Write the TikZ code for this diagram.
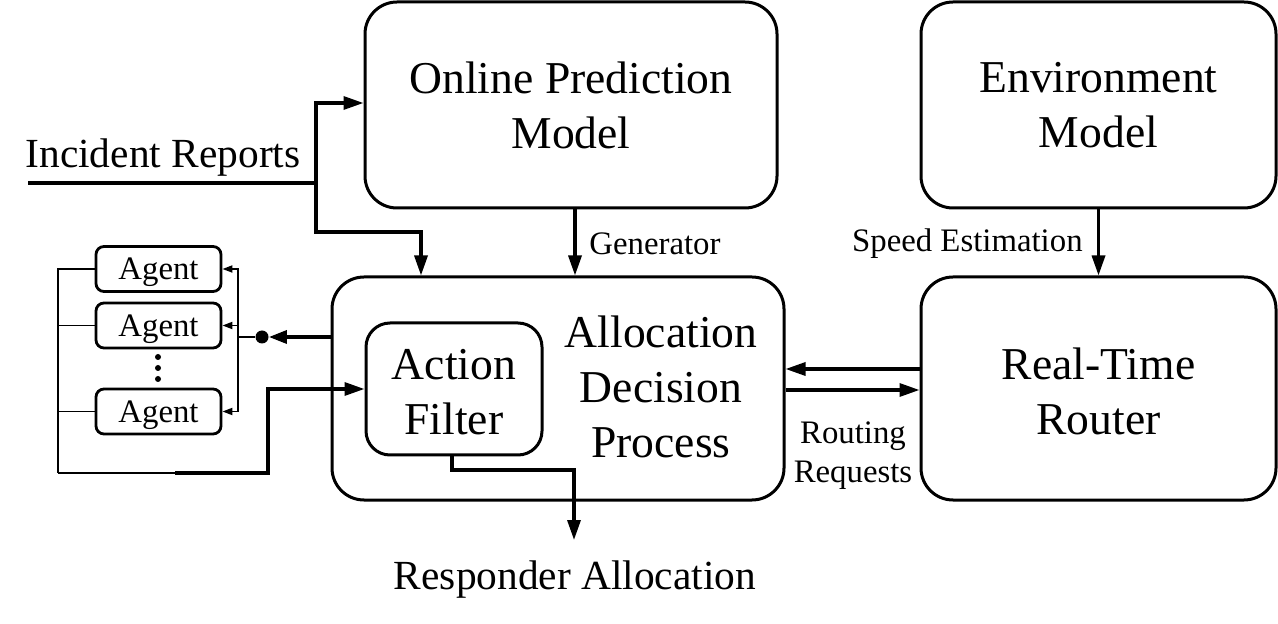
\documentclass[tikz,border=0pt]{standalone}
\usepackage{fontspec}
\setmainfont{Liberation Serif}
\usetikzlibrary{arrows.meta,calc}
\begin{document}
\begin{tikzpicture}[x=0.5pt,y=-0.5pt,
  bigbox/.style={draw,line width=1.5pt,rounded corners=16pt,inner sep=0pt},
  agentbox/.style={draw,line width=1.4pt,rounded corners=4pt,minimum width=62.5pt,minimum height=22.5pt,inner sep=0pt,text depth=0pt,font=\fontsize{16.4}{19.5}\selectfont},
  bigtext/.style={align=center,font=\fontsize{22.8}{27.5}\selectfont,inner sep=0pt},
  midtext/.style={align=center,font=\fontsize{20.7}{25}\selectfont,inner sep=0pt},
  smalltext/.style={align=center,font=\fontsize{16.4}{19.5}\selectfont,inner sep=0pt},
  conn/.style={line width=1.65pt},
  arr/.style={conn,-{Triangle[length=10pt,width=6.5pt]}},
  thinconn/.style={line width=0.9pt},
  thinarr/.style={thinconn,-{Triangle[length=5pt,width=3.5pt]}},
  dotnode/.style={circle,fill,inner sep=0pt,minimum size=6.5pt},
  smalldot/.style={circle,fill,inner sep=0pt,minimum size=3pt}
]
\useasboundingbox (0,0) rectangle (1278,624);
% main boxes
\node[bigbox,minimum width=206pt,minimum height=103pt] (opm) at (571,105) {};
\node[bigtext] (opmt) at (571,105) {Online Prediction\\Model};
\node[bigbox,minimum width=177.5pt,minimum height=103pt] (env) at (1098.5,105) {};
\node[bigtext] (envt) at (1098.5,105) {Environment\\Model};
\node[bigbox,minimum width=226pt,minimum height=111.5pt] (adp) at (558,388.5) {};
\node[bigtext] (adpt) at (661,387) {Allocation\\Decision\\Process};
\node[bigbox,minimum width=177.5pt,minimum height=111.5pt] (rtr) at (1098.5,388.5) {};
\node[bigtext] (rtrt) at (1098.5,391) {Real-Time\\Router};
\node[bigbox,rounded corners=12pt,minimum width=88pt,minimum height=66pt] (af) at (454,389) {};
\node[bigtext] (aft) at (454,392) {Action\\Filter};
% agents
\node[agentbox] (ag1) at (158.5,269) {Agent};
\node[agentbox] (ag2) at (158.5,325.5) {Agent};
\node[agentbox] (ag3) at (158.5,411.5) {Agent};
\node[smalldot] (d1) at (158,357) {};
\node[smalldot] (d2) at (158,368) {};
\node[smalldot] (d3) at (158,379) {};
% texts
\node[midtext] (irt) at (163,158) {Incident Reports};
\node[midtext] (rat) at (575,580) {Responder Allocation};
\node[smalltext,anchor=west] (gen) at (589,244) {Generator};
\node[smalltext,anchor=east] (spd) at (1083,244) {Speed Estimation};
\node[smalltext] (rr) at (853,456) {Routing\\Requests};
% incident reports
\coordinate (ir0) at (28,183);
\coordinate (irj) at (316,183);
\coordinate (c1) at (421,232);
\draw[conn] (ir0) -- (irj);
\draw[arr] (irj) |- ([yshift=1pt]opm.west);
\draw[arr] (irj) |- (c1) -- (c1 |- adp.north);
% generator / speed
\draw[arr] ([xshift=2pt]opm.south) -- ([xshift=2pt]opm.south |- adp.north);
\draw[arr] (env.south) -- (rtr.north);
% router
\draw[arr] ([yshift=9.75pt]rtr.west) -- ([yshift=9.75pt]rtr.west -| adp.east);
\draw[arr] ([yshift=-0.75pt]adp.east) -- ([yshift=-0.75pt]adp.east -| rtr.west);
% feedback to agents
\node[dotnode] (dot) at (262,337) {};
\coordinate (v) at (238,337);
\draw[conn,-{Triangle[length=9pt,width=6.5pt]}] ([yshift=25.75pt]adp.west) -- (dot);
\draw[thinconn] (dot) -- (v);
\draw[thinarr] (v) |- (ag1.east);
\draw[thinarr] (v) |- (ag2.east);
\draw[thinarr] (v) |- (ag3.east);
% agents back to action filter
\coordinate (lb) at (58,473);
\coordinate (m) at (175,473);
\coordinate (k) at (268,473);
\draw[thinconn] (ag1.west) -| (lb);
\draw[thinconn] (ag2.west) -- (ag2.west -| lb);
\draw[thinconn] (ag3.west) -- (ag3.west -| lb);
\draw[line width=1.1pt] (lb) -- (m);
\draw[arr] (m) -- (k) |- (af.west);
% responder allocation
\coordinate (ra) at (574,470);
\coordinate (raend) at (574,540);
\draw[arr] ([xshift=-1pt]af.south) |- (ra) -- (raend);
\end{tikzpicture}
\end{document}
